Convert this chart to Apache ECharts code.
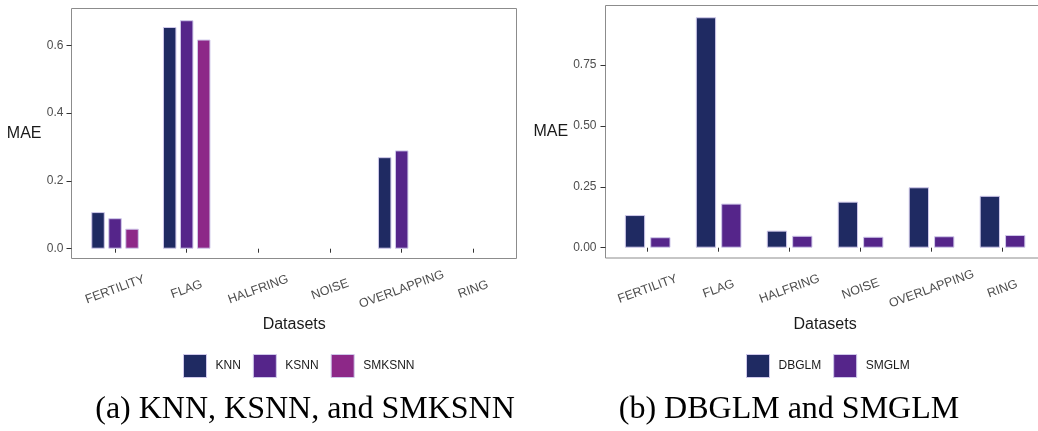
<!DOCTYPE html>
<html>
<head>
<meta charset="utf-8">
<script src="https://cdn.jsdelivr.net/npm/echarts@6/dist/echarts.min.js"></script>
<style>
  html, body { margin: 0; padding: 0; background: #fff; }
  #chart { width: 1038px; height: 431px; }
</style>
</head>
<body>
<div id="chart"></div>
<script>
// data
var categories = ['FERTILITY', 'FLAG', 'HALFRING', 'NOISE', 'OVERLAPPING', 'RING'];

var knn    = [0.108, 0.654, null, null, 0.270, null];
var ksnn   = [0.090, 0.674, null, null, 0.290, null];
var smksnn = [0.059, 0.617, null, null, null, null];

var dbglm = [0.134, 0.946, 0.070, 0.189, 0.248, 0.213];
var smglm = [0.043, 0.181, 0.049, 0.045, 0.047, 0.052];

var ticksLeft  = [0, 0.2, 0.4, 0.6];
var ticksRight = [0, 0.25, 0.5, 0.75];

var NAVY = '#1f2a62';
var PURPLE = '#55258a';
var MAGENTA = '#8d2888';
var OUTLINE = '#cfc8ea';
var FONT = 'Liberation Sans, Arial, sans-serif';
var SERIF = '32px "Liberation Serif", "Times New Roman", serif';

var myChart = echarts.init(document.getElementById('chart'), null, { renderer: 'canvas' });

function xAxisFor(gridIndex) {
    return {
        type: 'category',
        gridIndex: gridIndex,
        data: categories,
        axisLine: { show: false },
        axisTick: { show: true, alignWithLabel: true, length: 4, lineStyle: { color: '#333' } },
        axisLabel: {
            rotate: 20, align: 'center', verticalAlign: 'middle', margin: 31,
            fontSize: 12.5, color: '#4d4d4d', fontFamily: FONT, interval: 0
        },
        splitLine: { show: false },
        name: 'Datasets',
        nameLocation: 'middle',
        nameGap: 63,
        nameTextStyle: { fontSize: 16, color: '#1a1a1a', fontFamily: FONT, align: 'center', verticalAlign: 'middle' }
    };
}

function yAxisFor(gridIndex, min, max, ticks, offset, nameGap, digits, margin) {
    return {
        type: 'value',
        gridIndex: gridIndex,
        min: min,
        max: max,
        offset: offset,
        axisLine: { show: false },
        axisTick: { show: true, length: 5, customValues: ticks, lineStyle: { color: '#333' } },
        axisLabel: {
            customValues: ticks, margin: margin, fontSize: 12, color: '#4d4d4d', fontFamily: FONT,
            formatter: function (v) { return v.toFixed(digits); }
        },
        splitLine: { show: false },
        name: 'MAE',
        nameLocation: 'middle',
        nameRotate: 0,
        nameGap: nameGap,
        nameTextStyle: { fontSize: 16, color: '#1a1a1a', fontFamily: FONT, align: 'right', verticalAlign: 'middle' }
    };
}

function barSeries(name, data, color, axisIndex, width, gap) {
    return {
        name: name,
        type: 'bar',
        xAxisIndex: axisIndex,
        yAxisIndex: axisIndex,
        data: data,
        barWidth: width,
        barGap: gap,
        itemStyle: { color: color, borderColor: OUTLINE, borderWidth: 1 },
        emphasis: { disabled: true }
    };
}

var legendText = { fontSize: 12, color: '#1a1a1a', fontFamily: FONT, padding: [0, 0, 0, 4] };

var option = {
    animation: false,
    backgroundColor: '#fff',
    grid: [
        { left: 79.2, width: 430, top: 8.5, height: 250 },
        { left: 612.2, width: 426, top: 5.5, height: 252.5 }
    ],
    xAxis: [xAxisFor(0), xAxisFor(1)],
    yAxis: [
        yAxisFor(0, -0.0289, 0.7086, ticksLeft, 7.7, 30, 1, 8),
        yAxisFor(1, -0.0423, 0.9943, ticksRight, 6.7, 37.4, 2, 9)
    ],
    legend: [
        {
            data: ['KNN', 'KSNN', 'SMKSNN'],
            left: 183, top: 354, padding: 0, itemWidth: 23, itemHeight: 23, itemGap: 12,
            icon: 'rect', itemStyle: { borderColor: OUTLINE, borderWidth: 1 },
            textStyle: legendText, selectedMode: false
        },
        {
            data: ['DBGLM', 'SMGLM'],
            left: 746, top: 354, padding: 0, itemWidth: 23, itemHeight: 23, itemGap: 12,
            icon: 'rect', itemStyle: { borderColor: OUTLINE, borderWidth: 1 },
            textStyle: legendText, selectedMode: false
        }
    ],
    graphic: [
        // panel borders (ggplot draws them wider than the category bands)
        { type: 'rect', shape: { x: 71.5, y: 8.5, width: 445, height: 250 },
          style: { fill: 'none', stroke: '#8c8c8c', lineWidth: 1 }, silent: true },
        { type: 'rect', shape: { x: 605.5, y: 5.5, width: 440, height: 252.5 },
          style: { fill: 'none', stroke: '#8c8c8c', lineWidth: 1 }, silent: true },
        { type: 'text', style: {
            text: '(a) KNN, KSNN, and SMKSNN', x: 305, y: 410, align: 'center', verticalAlign: 'middle',
            font: SERIF, fill: '#000' } },
        { type: 'text', style: {
            text: '(b) DBGLM and SMGLM', x: 789, y: 410, align: 'center', verticalAlign: 'middle',
            font: SERIF, fill: '#000' } }
    ],
    series: [
        barSeries('KNN', knn, NAVY, 0, 13.5, '26%'),
        barSeries('KSNN', ksnn, PURPLE, 0, 13.5, '26%'),
        barSeries('SMKSNN', smksnn, MAGENTA, 0, 13.5, '26%'),
        barSeries('DBGLM', dbglm, NAVY, 1, 20.3, '25%'),
        barSeries('SMGLM', smglm, PURPLE, 1, 20.3, '25%')
    ]
};

myChart.setOption(option);
window.addEventListener('resize', myChart.resize);
</script>
</body>
</html>
